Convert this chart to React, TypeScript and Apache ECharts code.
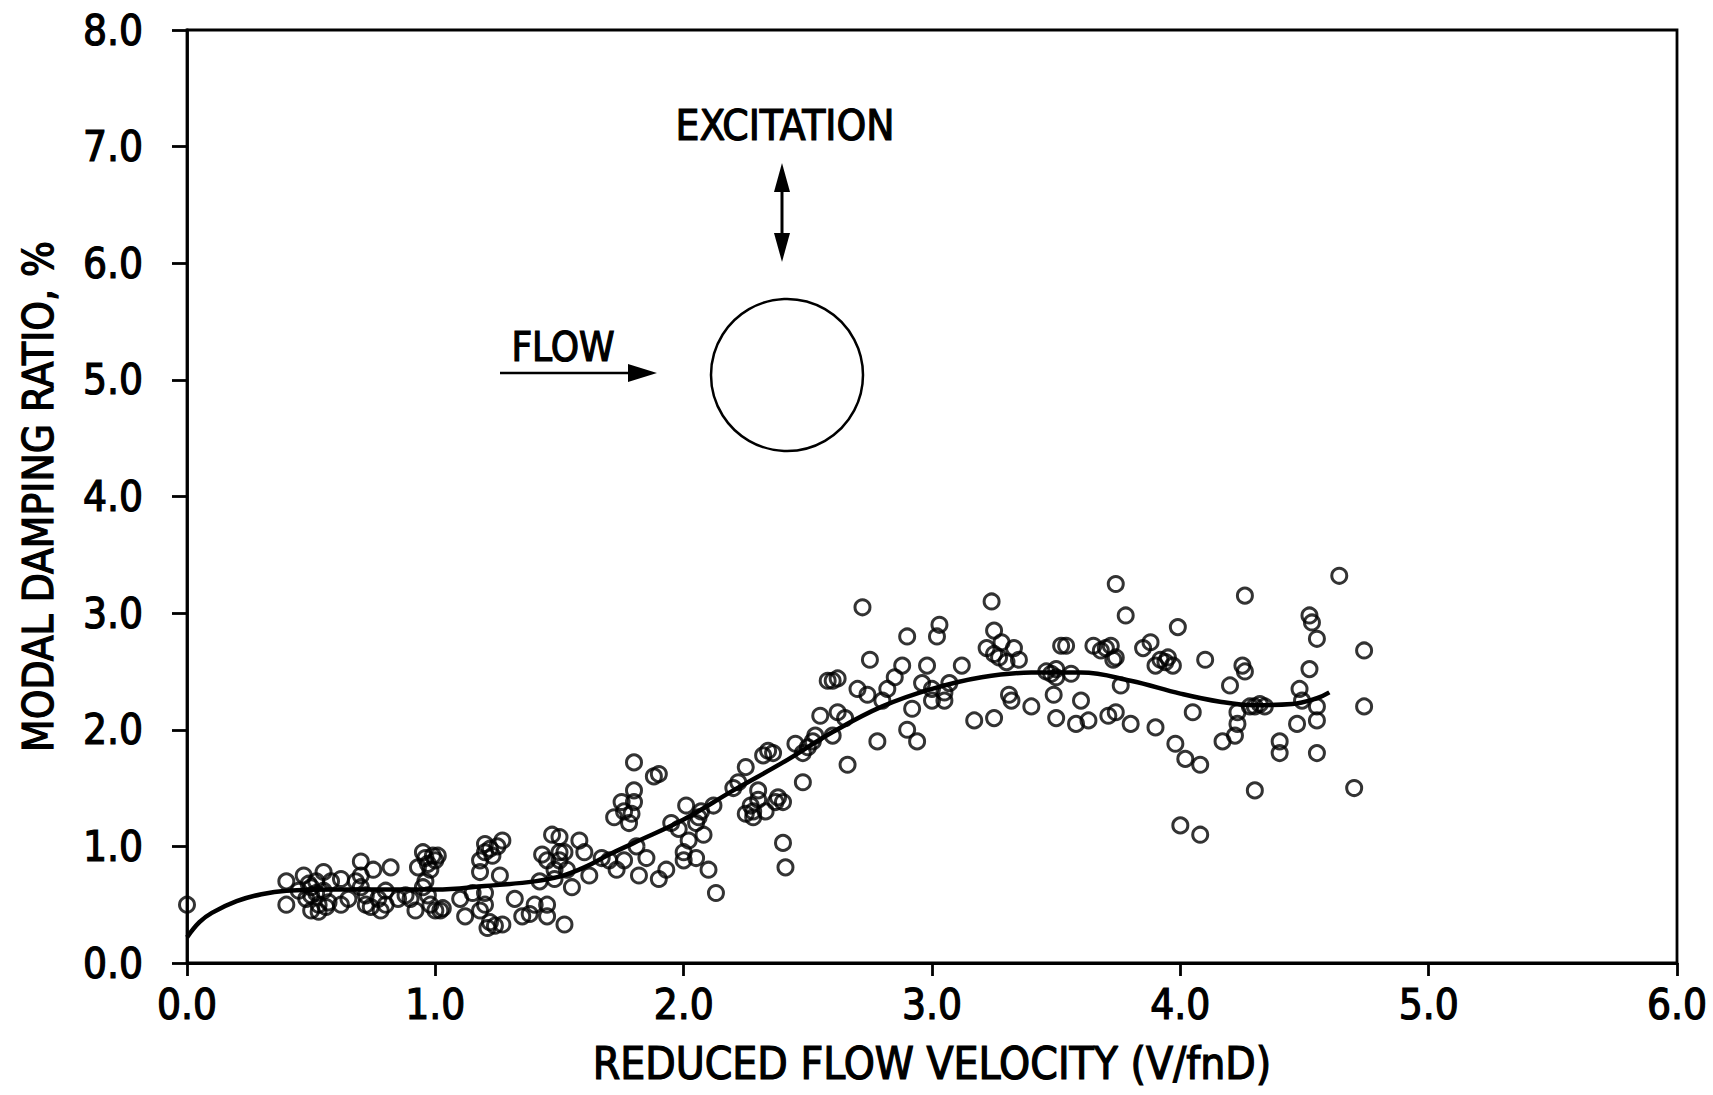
import React, { useEffect, useRef } from "react";
import * as echarts from "echarts";

// Measured points [reduced velocity, damping %]
const pointsLow: number[][] = [
  [0.0, 0.5],
  [0.4, 0.7], [0.4, 0.5], [0.45, 0.62], [0.47, 0.75], [0.48, 0.55], [0.5, 0.45], [0.5, 0.65],
  [0.52, 0.6], [0.52, 0.7], [0.53, 0.5], [0.55, 0.78], [0.55, 0.62], [0.57, 0.52], [0.5, 0.58],
  [0.49, 0.68], [0.53, 0.44], [0.58, 0.7], [0.56, 0.48],
  [0.62, 0.72], [0.62, 0.5], [0.65, 0.55],
  [0.7, 0.87], [0.7, 0.75], [0.7, 0.65], [0.72, 0.58], [0.72, 0.5], [0.68, 0.7], [0.74, 0.48],
  [0.75, 0.8], [0.77, 0.55], [0.78, 0.45], [0.8, 0.5], [0.8, 0.62], [0.82, 0.82], [0.85, 0.55], [0.88, 0.58],
  [0.93, 0.82], [0.95, 0.95], [0.96, 0.9], [0.97, 0.85], [0.98, 0.8], [0.99, 0.92], [1.0, 0.88],
  [1.01, 0.92], [0.95, 0.65], [0.96, 0.7], [0.97, 0.58], [0.98, 0.5], [1.0, 0.45], [1.02, 0.45],
  [0.92, 0.45], [0.9, 0.55], [1.03, 0.47],
  [1.1, 0.55], [1.12, 0.4], [1.15, 0.6], [1.18, 0.78], [1.18, 0.45], [1.2, 0.95], [1.2, 1.02],
  [1.22, 0.98], [1.23, 0.92], [1.25, 1.0], [1.27, 1.05], [1.2, 0.6], [1.2, 0.5], [1.22, 0.35],
  [1.21, 0.3], [1.24, 0.32], [1.27, 0.33], [1.26, 0.75], [1.18, 0.88],
  [1.32, 0.55], [1.35, 0.4], [1.38, 0.42], [1.4, 0.5], [1.42, 0.7], [1.43, 0.93], [1.45, 0.5],
  [1.45, 0.4], [1.47, 1.1], [1.48, 0.72], [1.5, 0.95], [1.5, 1.08], [1.5, 0.88], [1.52, 0.95],
  [1.53, 0.8], [1.52, 0.33], [1.55, 0.65], [1.45, 0.88], [1.48, 0.8],
];

const pointsMid: number[][] = [
  [1.58, 1.05], [1.6, 0.95], [1.62, 0.75], [1.67, 0.9], [1.7, 0.88], [1.72, 1.25], [1.73, 0.8],
  [1.75, 1.38], [1.76, 1.3], [1.78, 1.2], [1.8, 1.48], [1.8, 1.38], [1.79, 1.28], [1.8, 1.72],
  [1.81, 1.0], [1.82, 0.75], [1.76, 0.88], [1.85, 0.9],
  [1.88, 1.6], [1.9, 1.62], [1.9, 0.72], [1.93, 0.8], [1.95, 1.2], [1.98, 1.15], [2.0, 0.95],
  [2.0, 0.88], [2.01, 1.35], [2.05, 1.2], [2.06, 1.25], [2.07, 1.3], [2.05, 0.9], [2.08, 1.1],
  [2.1, 0.8], [2.13, 0.6], [2.12, 1.35], [2.02, 1.05],
  [2.2, 1.5], [2.22, 1.55], [2.25, 1.68], [2.25, 1.28], [2.27, 1.35], [2.28, 1.3], [2.3, 1.4],
  [2.3, 1.48], [2.32, 1.78], [2.34, 1.82], [2.36, 1.8], [2.37, 1.38], [2.38, 1.42], [2.4, 1.38],
  [2.4, 1.03], [2.41, 0.82], [2.33, 1.3], [2.28, 1.25],
  [2.45, 1.88], [2.48, 1.8], [2.5, 1.85], [2.52, 1.9], [2.53, 1.95], [2.55, 2.12], [2.48, 1.55],
  [2.58, 2.42], [2.6, 2.42], [2.62, 2.44], [2.62, 2.15], [2.6, 1.95], [2.65, 2.1], [2.66, 1.7],
  [2.7, 2.35], [2.72, 3.05], [2.74, 2.3], [2.75, 2.6],
  [2.78, 1.9], [2.8, 2.25], [2.82, 2.35], [2.85, 2.45], [2.88, 2.55], [2.9, 2.8], [2.9, 2.0],
  [2.92, 2.18], [2.94, 1.9], [2.96, 2.4], [2.98, 2.55], [3.0, 2.35], [3.0, 2.25], [3.02, 2.8],
  [3.03, 2.9], [3.05, 2.25], [3.07, 2.4], [3.05, 2.32],
];

const pointsHigh: number[][] = [
  [3.12, 2.55], [3.17, 2.08], [3.22, 2.7], [3.24, 3.1], [3.25, 2.85], [3.25, 2.1], [3.25, 2.65],
  [3.27, 2.62], [3.28, 2.75], [3.3, 2.58], [3.31, 2.3], [3.32, 2.25], [3.33, 2.7], [3.35, 2.6],
  [3.4, 2.2],
  [3.46, 2.5], [3.48, 2.48], [3.5, 2.45], [3.5, 2.52], [3.49, 2.3], [3.5, 2.1], [3.52, 2.72],
  [3.54, 2.72], [3.56, 2.48], [3.58, 2.05], [3.6, 2.25], [3.63, 2.08], [3.65, 2.72], [3.68, 2.68],
  [3.7, 2.7], [3.72, 2.72], [3.71, 2.12], [3.74, 2.15], [3.74, 3.25], [3.73, 2.6], [3.74, 2.62],
  [3.76, 2.38], [3.78, 2.98], [3.8, 2.05], [3.85, 2.7], [3.88, 2.75], [3.9, 2.55], [3.9, 2.02],
  [3.92, 2.6], [3.94, 2.58], [3.95, 2.62], [3.97, 2.55], [3.99, 2.88], [3.98, 1.88], [4.0, 1.18],
  [4.02, 1.75], [4.05, 2.15], [4.08, 1.7], [4.1, 2.6], [4.08, 1.1],
  [4.17, 1.9], [4.2, 2.38], [4.22, 1.95], [4.23, 2.15], [4.23, 2.05], [4.25, 2.55], [4.26, 2.5],
  [4.26, 3.15], [4.28, 2.2], [4.3, 2.2], [4.3, 1.48], [4.32, 2.22], [4.34, 2.2],
  [4.4, 1.9], [4.4, 1.8], [4.47, 2.05], [4.48, 2.35], [4.49, 2.25], [4.52, 2.52], [4.52, 2.98],
  [4.53, 2.92], [4.55, 2.78], [4.55, 2.2], [4.55, 2.08], [4.55, 1.8], [4.64, 3.32], [4.7, 1.5],
  [4.74, 2.68], [4.74, 2.2],
];

// Fitted curve
const fitVelocity = [0, 0.05, 0.1, 0.2, 0.3, 0.4, 0.6, 0.8, 1.0, 1.2, 1.4, 1.5, 1.6, 1.7, 1.8, 2.0, 2.2, 2.4, 2.6, 2.8, 3.0, 3.2, 3.4, 3.6, 3.8, 4.0, 4.16, 4.3, 4.45, 4.55, 4.6];
const fitDamping = [0.22, 0.35, 0.43, 0.53, 0.59, 0.62, 0.63, 0.63, 0.63, 0.66, 0.7, 0.74, 0.82, 0.93, 1.03, 1.23, 1.48, 1.72, 1.98, 2.2, 2.35, 2.45, 2.49, 2.49, 2.42, 2.31, 2.24, 2.21, 2.22, 2.27, 2.32];

const xTicks = [0, 1, 2, 3, 4, 5, 6];
const yTicks = [0, 1, 2, 3, 4, 5, 6, 7, 8];

const FONT = "'DejaVu Sans Condensed', 'Liberation Sans Narrow', 'DejaVu Sans', sans-serif";
const BOLDEN = { textBorderColor: "#000", textBorderWidth: 1.2 };

export default function App() {
  const ref = useRef<HTMLDivElement>(null);
  useEffect(() => {
    if (!ref.current) return;
    const chart = echarts.init(ref.current, undefined, { renderer: "svg" });
    const scatterData = [...pointsLow, ...pointsMid, ...pointsHigh];
    const fitData = fitVelocity.map((v, i) => [v, fitDamping[i]]);
    const axisLine = { lineStyle: { color: "#000", width: 2.8 } };
    chart.setOption({
      animation: false,
      backgroundColor: "#fff",
      grid: { left: 187, right: 36, top: 30, bottom: 132, show: true, borderColor: "#000", borderWidth: 2.8, backgroundColor: "transparent" },
      xAxis: {
        type: "value",
        min: xTicks[0],
        max: xTicks[xTicks.length - 1],
        interval: 1,
        name: "REDUCED FLOW VELOCITY (V/fnD)",
        nameLocation: "middle",
        nameGap: 78,
        nameTextStyle: { fontFamily: FONT, fontSize: 44, color: "#000", ...BOLDEN },
        axisLine,
        axisTick: { show: true, inside: false, length: 13, lineStyle: { color: "#000", width: 2.8 } },
        axisLabel: { fontFamily: FONT, fontSize: 42, color: "#000", margin: 20, ...BOLDEN, formatter: (v: number) => v.toFixed(1) },
        splitLine: { show: false },
      },
      yAxis: {
        type: "value",
        min: yTicks[0],
        max: yTicks[yTicks.length - 1],
        interval: 1,
        name: "MODAL DAMPING RATIO, %",
        nameLocation: "middle",
        nameGap: 128,
        nameTextStyle: { fontFamily: FONT, fontSize: 42, color: "#000", ...BOLDEN },
        axisLine,
        axisTick: { show: true, inside: false, length: 15, lineStyle: { color: "#000", width: 2.8 } },
        axisLabel: { fontFamily: FONT, fontSize: 42, color: "#000", margin: 44, ...BOLDEN, formatter: (v: number) => v.toFixed(1) },
        splitLine: { show: false },
      },
      series: [
        {
          type: "line",
          data: fitData,
          smooth: 0.4,
          symbol: "none",
          lineStyle: { color: "#000", width: 4.5 },
          z: 2,
        },
        {
          type: "scatter",
          data: scatterData,
          symbol: "circle",
          symbolSize: 15,
          itemStyle: { color: "rgba(0,0,0,0)", borderColor: "#000", borderWidth: 3 },
          z: 3,
        },
      ],
      graphic: [
        { type: "text", x: 785, y: 125, style: { text: "EXCITATION", fontFamily: FONT, fontSize: 42, fill: "#000", stroke: "#000", lineWidth: 1.2, align: "center", verticalAlign: "middle" } },
        { type: "line", shape: { x1: 782, y1: 180, x2: 782, y2: 245 }, style: { stroke: "#000", lineWidth: 3 } },
        { type: "polygon", shape: { points: [[782, 163], [774, 192], [790, 192]] }, style: { fill: "#000" } },
        { type: "polygon", shape: { points: [[782, 262], [774, 233], [790, 233]] }, style: { fill: "#000" } },
        { type: "circle", shape: { cx: 787, cy: 375, r: 76 }, style: { fill: "none", stroke: "#000", lineWidth: 2.5 } },
        { type: "text", x: 563, y: 347, style: { text: "FLOW", fontFamily: FONT, fontSize: 40, fill: "#000", stroke: "#000", lineWidth: 1.2, align: "center", verticalAlign: "middle" } },
        { type: "line", shape: { x1: 500, y1: 373, x2: 635, y2: 373 }, style: { stroke: "#000", lineWidth: 2.5 } },
        { type: "polygon", shape: { points: [[657, 373], [628, 364], [628, 382]] }, style: { fill: "#000" } },
      ],
    });
    return () => chart.dispose();
  }, []);
  return <div ref={ref} style={{ position: "absolute", left: 0, top: 0, width: 1713, height: 1095, background: "#fff" }} />;
}
